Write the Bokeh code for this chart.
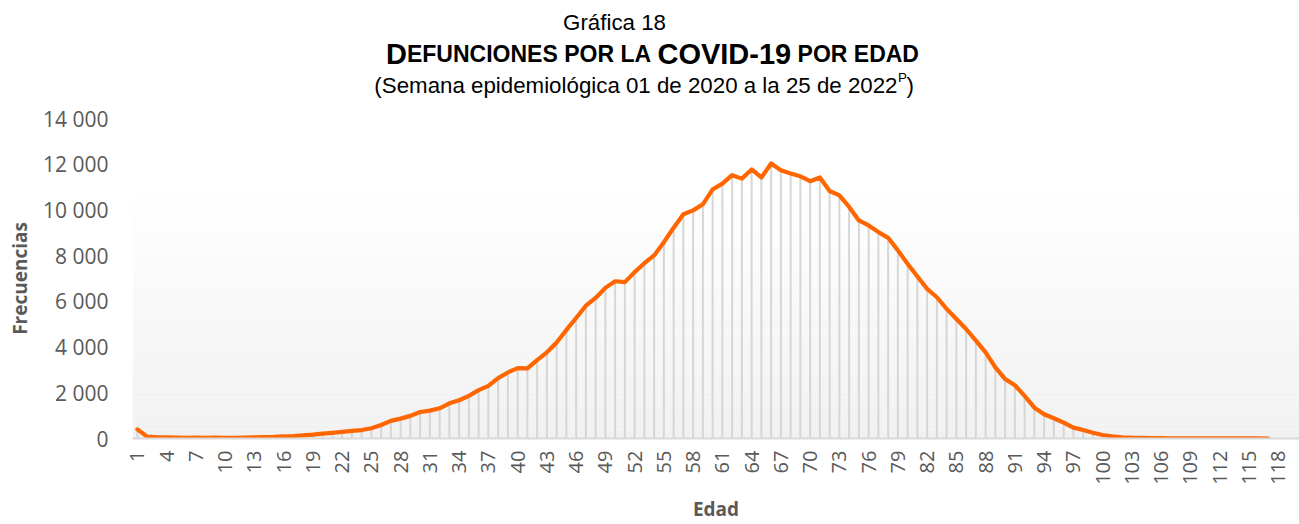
import math
from bokeh.plotting import figure
from bokeh.models import Range1d, FixedTicker
from bokeh.layouts import column
from bokeh.core.properties import value
from bokeh.embed import file_html
from bokeh.resources import INLINE

# ---------------- data ----------------
ages = list(range(1, 118))
deaths = [
    400, 80, 50, 45, 40, 30, 35, 25, 35, 30,
    30, 40, 50, 60, 70, 90, 110, 140, 170, 210,
    250, 290, 330, 370, 450, 590, 770, 870, 990, 1160,
    1220, 1320, 1540, 1675, 1865, 2115, 2300, 2640, 2890, 3080,
    3065, 3430, 3770, 4200, 4750, 5270, 5810, 6150, 6590, 6880,
    6840, 7280, 7670, 8010, 8590, 9220, 9810, 9980, 10245, 10900,
    11150, 11520, 11370, 11770, 11420, 12030, 11740, 11590, 11470, 11255,
    11420, 10830, 10640, 10130, 9540, 9320, 9030, 8780, 8230, 7640,
    7090, 6545, 6180, 5670, 5230, 4790, 4280, 3770, 3110, 2600,
    2330, 1865, 1350, 1060, 885, 695, 475, 375, 255, 155,
    95, 55, 35, 25, 20, 15, 12, 10, 8, 6,
    5, 4, 3, 3, 2, 2, 1,
]
x_ticks = list(range(1, 119, 3))
y_ticks = [0, 2000, 4000, 6000, 8000, 10000, 12000, 14000]
y_tick_labels = ["0", "2 000", "4 000", "6 000", "8 000", "10 000", "12 000", "14 000"]

title_top = "Gráfica 18"
title_parts = [("D", "big"), ("EFUNCIONES POR LA ", "small"), ("COVID-19", "big"), (" POR EDAD", "small")]
subtitle_main = "(Semana epidemiológica 01 de 2020 a la 25 de 2022"
subtitle_sup = "P"
subtitle_end = ")"
x_label = "Edad"
y_label = "Frecuencias"

# ---------------- styling ----------------
reg_font = "Liberation Sans"
reg_size = 22.3
bold_font = "Liberation Sans"
tick_font = "Open Sans"
tick_color = "#595959"

W = 1299
LB = 132
TH = 100          # title figure slot
MH = 424          # main figure
OFF = 8           # observed vertical offset of the title figure's content

# ---------------- title figure ----------------
tf = figure(width=W, height=TH, x_range=Range1d(LB, W), y_range=Range1d(0, TH),
            x_axis_location=None, y_axis_location=None, toolbar_location=None,
            output_backend="svg", min_border_left=LB, min_border_right=0,
            min_border_top=0, min_border_bottom=0)
tf.title.visible = False
tf.outline_line_color = None
tf.xgrid.visible = False
tf.ygrid.visible = False
tf.background_fill_color = None
tf.border_fill_color = None


def add_text(txt, page_x, page_y, size, align="left", bold=False, font=reg_font):
    tf.text(x=[page_x], y=[TH + OFF - page_y], text=[txt], text_font=value(font),
            text_font_size=value(f"{size:.1f}px"),
            text_font_style="bold" if bold else "normal",
            text_align=align, text_baseline="alphabetic", text_color="#000000")


add_text(title_top, 614, 30, reg_size, align="center")

big, small = 29.0, 23.0
aw = {"D": 722, "E": 667, "F": 611, "U": 722, "N": 722, "C": 722, "I": 278, "O": 778,
      "S": 667, "P": 667, "R": 722, "L": 611, "A": 722, "V": 667, " ": 278, "-": 333,
      "1": 556, "9": 556}
widths = []
for txt, kind in title_parts:
    sz = big if kind == "big" else small
    widths.append(sum(aw[c] for c in txt) / 1000.0 * sz)
cur = 652 - sum(widths) / 2
for (txt, kind), wd in zip(title_parts, widths):
    sz = big if kind == "big" else small
    lead = len(txt) - len(txt.lstrip(" "))
    shown = txt.strip(" ")
    add_text(shown, cur + lead * aw[" "] / 1000.0 * sz, 61, sz, bold=True, font=bold_font)
    cur += wd

anchor = 897
add_text(subtitle_main, anchor, 93, reg_size, align="right")
add_text(subtitle_sup, anchor + 0.5, 85, reg_size * 0.6)
add_text(subtitle_end, anchor + 9.0, 93, reg_size)

# ---------------- main figure ----------------
x0r, x1r = 0.5, 0.5 + (W - LB) / 9.75
p = figure(width=W, height=MH, x_range=Range1d(x0r, x1r), y_range=Range1d(0, 14000),
           toolbar_location=None, output_backend="svg",
           min_border_left=LB, min_border_right=0, min_border_top=18, min_border_bottom=86)
p.title.visible = False
p.outline_line_color = None
p.xgrid.visible = False
p.ygrid.visible = False
p.background_fill_color = "#ffffff"
p.border_fill_color = "#ffffff"

# background gradient (white at top to light gray at bottom)
nb = 70
edges = [14000 * i / nb for i in range(nb + 1)]
bots, tops, cols = [], [], []
for i in range(nb):
    mid = (edges[i] + edges[i + 1]) / 2
    t = min(1.0, mid / 11000.0)
    g = int(round(241 + (255 - 241) * t))
    bots.append(edges[i])
    tops.append(edges[i + 1] + 1)
    cols.append(f"#{g:02x}{g:02x}{g:02x}")
p.quad(left=x0r, right=x1r, bottom=bots, top=tops, fill_color=cols, line_color=None)

# drop lines
p.segment(x0=ages, y0=[0] * len(ages), x1=ages, y1=deaths, line_color="#d6d6d6", line_width=2)

# series line
p.line(ages, deaths, line_color="#ff6600", line_width=4.2, line_join="round", line_cap="round")

# x axis
xa = p.xaxis[0]
xa.ticker = FixedTicker(ticks=x_ticks)
xa.major_label_orientation = math.pi / 2
xa.major_tick_in = 0
xa.major_tick_out = 0
xa.minor_tick_in = 0
xa.minor_tick_out = 0
xa.axis_line_color = "#d9d9d9"
xa.axis_line_width = 2
xa.major_label_text_font = tick_font
xa.major_label_text_font_size = "20px"
xa.major_label_text_color = tick_color
xa.major_label_standoff = 12
xa.axis_label = x_label
xa.axis_label_text_font = tick_font
xa.axis_label_text_font_size = "19px"
xa.axis_label_text_font_style = "bold"
xa.axis_label_text_color = tick_color
xa.axis_label_standoff = 8

# y axis
ya = p.yaxis[0]
ya.ticker = FixedTicker(ticks=y_ticks)
ya.major_label_overrides = {t: l for t, l in zip(y_ticks, y_tick_labels)}
ya.axis_line_color = None
ya.major_tick_in = 0
ya.major_tick_out = 0
ya.minor_tick_in = 0
ya.minor_tick_out = 0
ya.major_label_text_font = tick_font
ya.major_label_text_font_size = "21px"
ya.major_label_text_color = tick_color
ya.major_label_standoff = 24
ya.axis_label = y_label
ya.axis_label_text_font = tick_font
ya.axis_label_text_font_size = "19px"
ya.axis_label_text_font_style = "bold"
ya.axis_label_text_color = tick_color
ya.axis_label_standoff = 7

layout = column(tf, p, spacing=0)
open("out.html", "w").write(file_html(layout, INLINE))
